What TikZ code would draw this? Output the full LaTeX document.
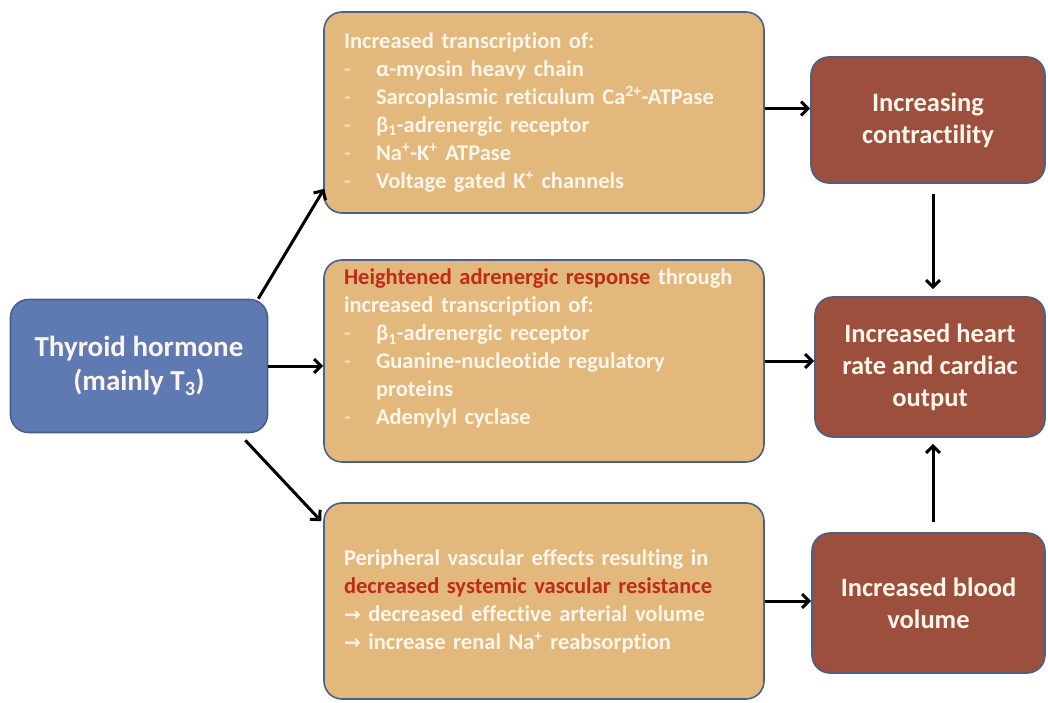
\documentclass[tikz,border=0pt]{standalone}
\usepackage{fontspec}
\setmainfont{Carlito}[Ligatures=NoCommon]
\newfontfamily\symfont{DejaVu Sans}
\usetikzlibrary{calc,arrows.meta}
\definecolor{hormblue}{HTML}{5F7AB3}
\definecolor{tanbox}{HTML}{E3B87C}
\definecolor{brownbox}{HTML}{9C4F3C}
\definecolor{edgeblue}{HTML}{4A6088}
\definecolor{redtext}{HTML}{C02A1C}
\definecolor{paletext}{HTML}{FCF5EA}
\newcommand{\dashitem}[1]{\makebox[32pt][l]{\textcolor{paletext!60!tanbox}{-}}#1}
\newcommand{\redpart}[1]{\textcolor{redtext}{#1}}
\newcommand{\symarrow}{{\symfont\fontsize{20}{28}\selectfont →}}

\begin{document}
\begin{tikzpicture}[x=1pt,y=-1pt,
            box/.style={rounded corners=18pt, draw=edgeblue, line width=1.6pt, text=paletext},
            listbox/.style={box, fill=tanbox, minimum width=440pt, text width=400pt, inner xsep=20pt, align=left, font=\bfseries\fontsize{22.5}{28}\selectfont},
            effect/.style={box, fill=brownbox, align=center, font=\bfseries\fontsize{26.5}{32}\selectfont},
            arr/.style={line width=3pt, -{Straight Barb[length=7pt,width=14pt,line width=3pt]}}]
            \useasboundingbox (0,0) rectangle (1048,703);

            \node[box, fill=hormblue, minimum width=257pt, minimum height=133pt, align=center, font=\bfseries\fontsize{29}{34}\selectfont] (hormone) at (139,366) {Thyroid hormone\\(mainly T\textsubscript{3})};

            \node[listbox, minimum height=201pt] (top) at (544,112.5) {Increased transcription of:\\
                \dashitem{α-myosin heavy chain}\\
                \dashitem{Sarcoplasmic reticulum Ca\textsuperscript{2+}-ATPase}\\
                \dashitem{β\textsubscript{1}-adrenergic receptor}\\
                \dashitem{Na\textsuperscript{+}-K\textsuperscript{+} ATPase}\\
                \dashitem{Voltage gated K\textsuperscript{+} channels}};
            \node[listbox, minimum height=202pt] (mid) at (544,361) {\redpart{Heightened adrenergic response} through\\
                increased transcription of:\\
                \dashitem{β\textsubscript{1}-adrenergic receptor}\\
                \dashitem{Guanine-nucleotide regulatory}\\
                \hspace*{32pt}proteins\\
                \dashitem{Adenylyl cyclase}\\
                \mbox{}};
            \node[listbox, minimum height=196pt] (bot) at (544,601) {Peripheral vascular effects resulting in\\
                \redpart{decreased systemic vascular resistance}\\
                \symarrow{} decreased effective arterial volume\\
                \symarrow{} increase renal Na\textsuperscript{+} reabsorption};

            \node[effect, minimum width=234pt, minimum height=126pt] (ctr) at (928,120) {Increasing\\contractility};
            \node[effect, minimum width=230pt, minimum height=140pt] (heart) at (930,367) {Increased heart\\rate and cardiac\\output};
            \node[effect, minimum width=233pt, minimum height=140pt] (vol) at (928.5,603) {Increased blood\\volume};

            \draw[arr] ($(hormone.north east)+(-10,0)$) -- ($(top.south west)+(1,-25)$);
            \draw[arr] (hormone.east) -- (hormone.east -| mid.west);
            \draw[arr] ($(hormone.south east)+(-23,7)$) -- ($(bot.north west)+(-2,19)$);
            \draw[arr] ($(top.east)+(0,-4)$) -- ($(top.east -| ctr.west)+(0,-4)$);
            \draw[arr] (mid.east) -- (mid.east -| heart.west);
            \draw[arr] (bot.east) -- (bot.east -| vol.west);
            \draw[arr] ($(ctr.south)+(5,10)$) -- ($(heart.north)+(3,-7)$);
            \draw[arr] ($(vol.north)+(4.5,-10)$) -- ($(heart.south)+(3,6)$);

        \end{tikzpicture}
\end{document}
